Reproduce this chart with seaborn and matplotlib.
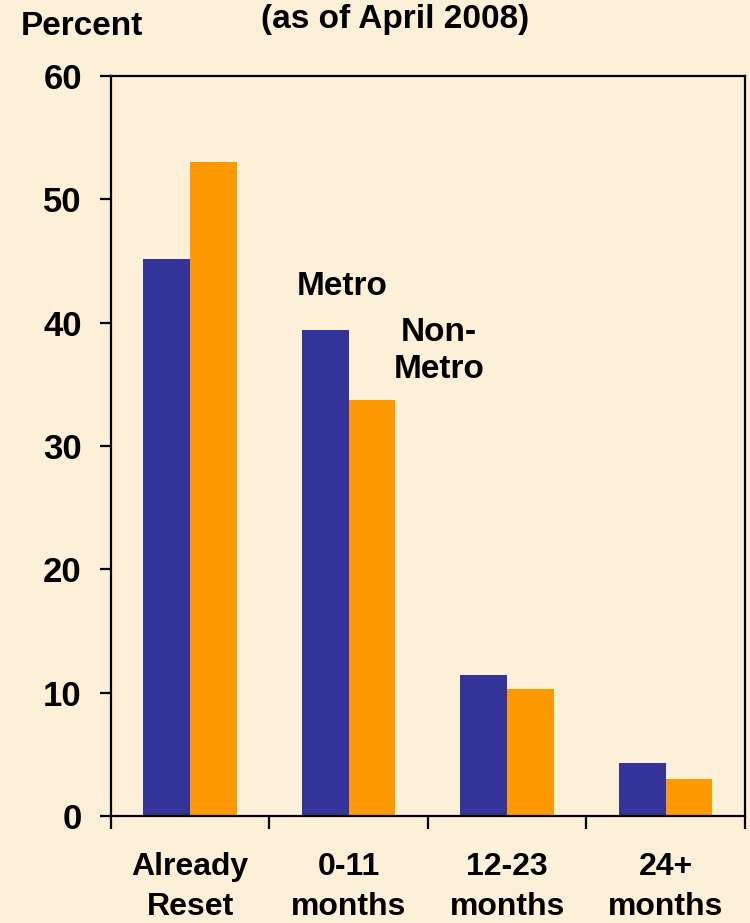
import pandas as pd
import matplotlib.pyplot as plt
import seaborn as sns
from matplotlib.ticker import FixedLocator

# values (percent of loans)
categories = ['Already\nReset', '0-11\nmonths', '12-23\nmonths', '24+\nmonths']
metro = [45.2, 39.4, 11.4, 4.3]
non_metro = [53.0, 33.7, 10.3, 3.0]

df = pd.DataFrame({
    'period': categories * 2,
    'pct': metro + non_metro,
    'area': ['Metro'] * 4 + ['Non-Metro'] * 4,
})

bg = '#FCF0D9'
sns.set_style('white')
plt.rcParams['font.family'] = ['Liberation Sans', 'DejaVu Sans']
plt.rcParams['font.weight'] = 'bold'
plt.rcParams['text.color'] = 'black'
plt.rcParams['xtick.color'] = 'black'
plt.rcParams['ytick.color'] = 'black'

fig = plt.figure(figsize=(7.5, 9.23), dpi=100, facecolor=bg)
ax = fig.add_axes([0.148, 0.1159, 0.845, 0.8018], facecolor=bg)

sns.barplot(data=df, x='period', y='pct', hue='area',
            palette={'Metro': '#333399', 'Non-Metro': '#FF9900'},
            width=0.59, linewidth=0, saturation=1, legend=False, ax=ax)

ax.set_xlim(-0.5, 3.5)
ax.set_ylim(0, 60)
ax.set_yticks(range(0, 61, 10))
ax.set_xlabel('')
ax.set_ylabel('')

for s in ax.spines.values():
    s.set_visible(True)
    s.set_color('black')
    s.set_linewidth(1.6)

ax.tick_params(axis='y', direction='out', length=8, width=1.6, pad=13,
               labelsize=25, left=True)
ax.tick_params(axis='x', which='major', length=0, pad=26, labelsize=23)
ax.xaxis.set_minor_locator(FixedLocator([-0.5, 0.5, 1.5, 2.5, 3.5]))
ax.tick_params(axis='x', which='minor', direction='out', length=9,
               width=1.6, bottom=True)
for lab in ax.get_xticklabels() + ax.get_yticklabels():
    lab.set_fontweight('bold')
    lab.set_color('black')
for lab in ax.get_xticklabels():
    lab.set_linespacing(1.45)

ax.text(0.96, 42.9, 'Metro', ha='center', va='center', fontsize=24,
        fontweight='bold')
ax.text(1.57, 37.7, 'Non-\nMetro', ha='center', va='center', fontsize=24,
        fontweight='bold', linespacing=1.25)

fig.text(0.028, 0.962, 'Percent', ha='left', va='baseline', fontsize=24,
         fontweight='bold')
fig.text(0.527, 0.996, '(as of April 2008)', ha='center', va='top',
         fontsize=24, fontweight='bold')

fig.savefig('out.png', dpi=100, facecolor=bg)
